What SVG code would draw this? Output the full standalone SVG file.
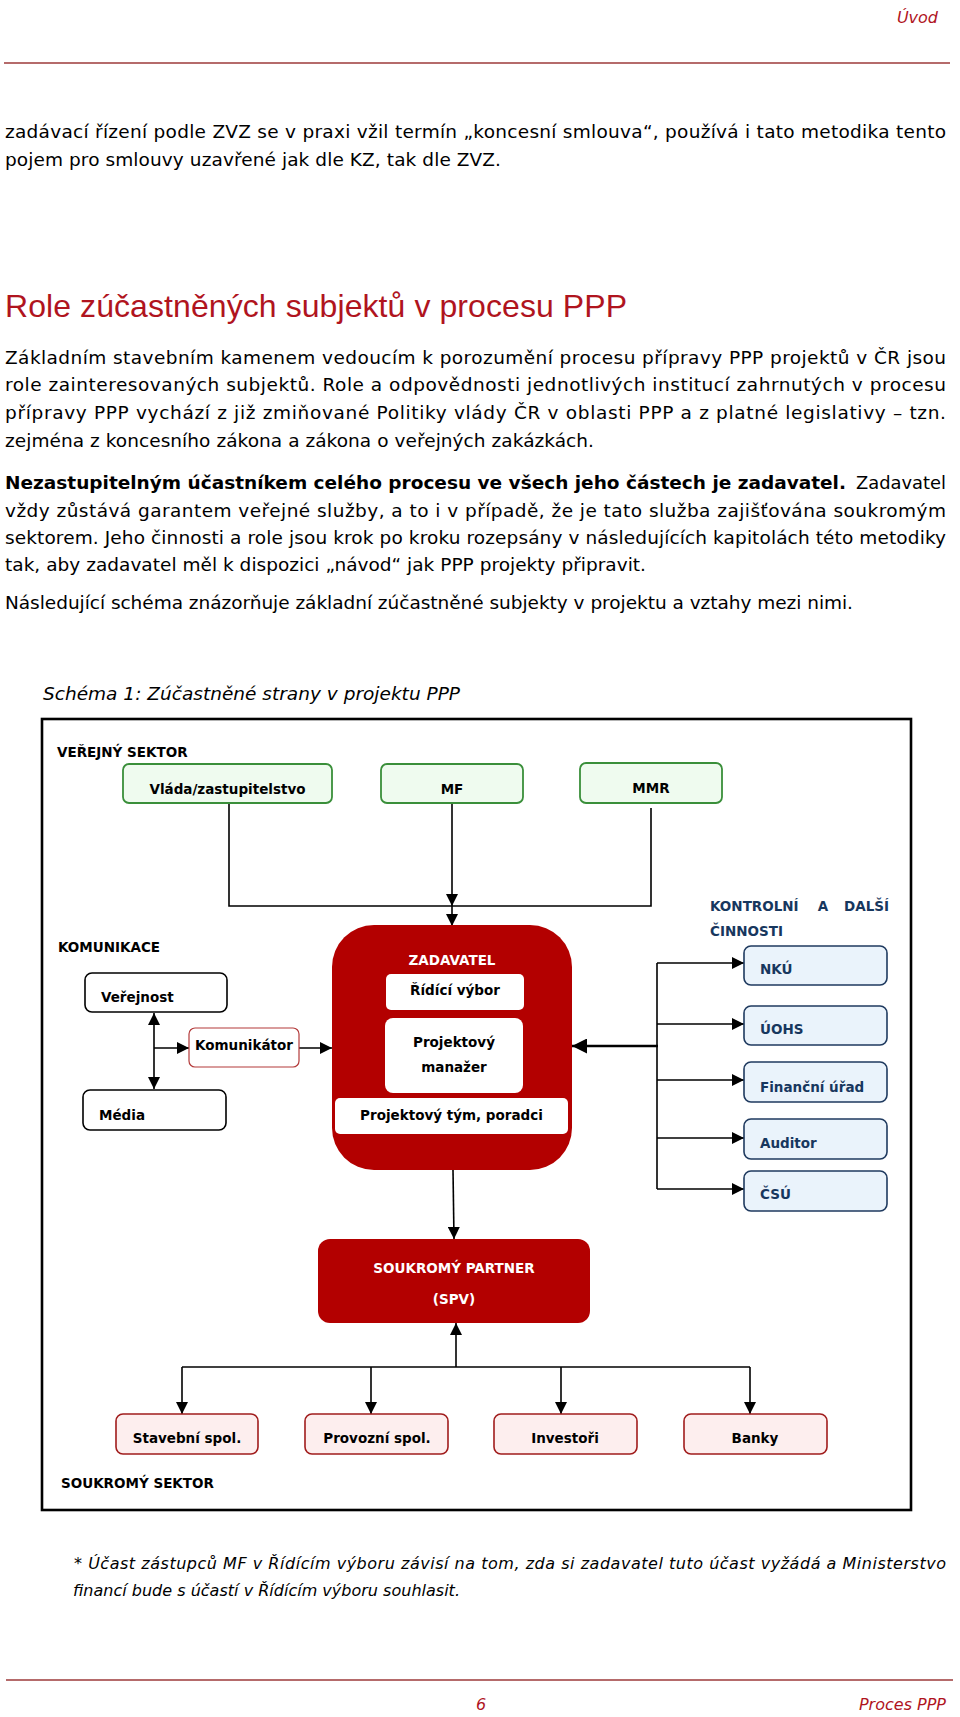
<svg xmlns="http://www.w3.org/2000/svg" width="960" height="1717" viewBox="0 0 960 1717">
<style>
.body{font-family:"DejaVu Sans",Verdana,sans-serif;font-size:18.5px;fill:#000}
.it{font-family:"DejaVu Sans",Verdana,sans-serif;font-style:italic}
.red{fill:#b0141e}
.lbl{font-family:"DejaVu Sans",Verdana,sans-serif;font-size:13.5px;font-weight:bold;fill:#000}
.wht{fill:#fff}
.blu{fill:#17375e}
.mid{text-anchor:middle}
.g{fill:#effbef;stroke:#3a8f3a;stroke-width:1.8}
.k{fill:#fff;stroke:#000;stroke-width:1.6}
.b{fill:#eaf3fb;stroke:#1f3a5f;stroke-width:1.6}
.p{fill:#fdeeee;stroke:#a01c1c;stroke-width:1.6}
.rd{fill:#b30000}
.w{fill:#fff}
.c{stroke:#000;stroke-width:1.6;fill:none}
</style>
<defs>
<marker id="a" viewBox="0 0 12 12" refX="12" refY="6" markerWidth="12" markerHeight="12" markerUnits="userSpaceOnUse" orient="auto-start-reverse"><path d="M0,0 L12,6 L0,12 z" fill="#000"/></marker>
<marker id="A" viewBox="0 0 12 12" refX="12" refY="6" markerWidth="15" markerHeight="15" markerUnits="userSpaceOnUse" orient="auto"><path d="M0,0 L12,6 L0,12 z" fill="#000"/></marker>
</defs>
<rect width="960" height="1717" fill="#fff"/>
<!-- header -->
<text class="it red" x="938" y="23" font-size="16" text-anchor="end">Úvod</text>
<line x1="4" y1="63" x2="950" y2="63" stroke="#9c3a3a" stroke-width="1.5"/>
<!-- text -->
<text class="body" x="5" y="138" textLength="941" lengthAdjust="spacing">zadávací řízení podle ZVZ se v praxi vžil termín „koncesní smlouva“, používá i tato metodika tento</text>
<text class="body" x="5" y="165.5" textLength="496" lengthAdjust="spacing">pojem pro smlouvy uzavřené jak dle KZ, tak dle ZVZ.</text>
<text x="5" y="317" font-family="'Liberation Sans',Arial,sans-serif" font-size="32" fill="#b0141e" textLength="622" lengthAdjust="spacing">Role zúčastněných subjektů v procesu PPP</text>
<text class="body" x="5" y="364" textLength="941" lengthAdjust="spacing">Základním stavebním kamenem vedoucím k porozumění procesu přípravy PPP projektů v ČR jsou</text>
<text class="body" x="5" y="391" textLength="941" lengthAdjust="spacing">role zainteresovaných subjektů. Role a odpovědnosti jednotlivých institucí zahrnutých v procesu</text>
<text class="body" x="5" y="419" textLength="941" lengthAdjust="spacing">přípravy PPP vychází z již zmiňované Politiky vlády ČR v oblasti PPP a z platné legislativy – tzn.</text>
<text class="body" x="5" y="446.5" textLength="589" lengthAdjust="spacing">zejména z koncesního zákona a zákona o veřejných zakázkách.</text>
<text class="body" x="5" y="489" font-weight="bold" textLength="841" lengthAdjust="spacingAndGlyphs">Nezastupitelným účastníkem celého procesu ve všech jeho částech je zadavatel.</text>
<text class="body" x="856" y="489" textLength="90" lengthAdjust="spacingAndGlyphs">Zadavatel</text>
<text class="body" x="5" y="516.5" textLength="941" lengthAdjust="spacing">vždy zůstává garantem veřejné služby, a to i v případě, že je tato služba zajišťována soukromým</text>
<text class="body" x="5" y="543.5" textLength="941" lengthAdjust="spacing">sektorem. Jeho činnosti a role jsou krok po kroku rozepsány v následujících kapitolách této metodiky</text>
<text class="body" x="5" y="571" textLength="641" lengthAdjust="spacing">tak, aby zadavatel měl k dispozici „návod“ jak PPP projekty připravit.</text>
<text class="body" x="5" y="609" textLength="848" lengthAdjust="spacing">Následující schéma znázorňuje základní zúčastněné subjekty v projektu a vztahy mezi nimi.</text>
<text class="it" x="43" y="700" font-size="18.5" textLength="417" lengthAdjust="spacing">Schéma 1: Zúčastněné strany v projektu PPP</text>
<!-- frame -->
<rect x="42" y="719" width="869" height="791" fill="none" stroke="#000" stroke-width="2.6"/>
<text class="lbl" x="57" y="757">VEŘEJNÝ SEKTOR</text>
<text class="lbl" x="58" y="952">KOMUNIKACE</text>
<text class="lbl" x="61" y="1488">SOUKROMÝ SEKTOR</text>
<g id="kontrolni">
<text class="lbl blu" x="710" y="911">KONTROLNÍ</text>
<text class="lbl blu" x="823" y="911" text-anchor="middle">A</text>
<text class="lbl blu" x="889" y="911" text-anchor="end">DALŠÍ</text>
<text class="lbl blu" x="710" y="936">ČINNOSTI</text>
</g>
<!-- connectors -->
<g id="connectors">
<path class="c" d="M229,803 V906 H651 V808"/>
<line class="c" x1="452" y1="803" x2="452" y2="906" marker-end="url(#a)"/>
<line class="c" x1="452" y1="906" x2="452" y2="926" marker-end="url(#a)"/>
<line class="c" x1="154" y1="1013" x2="154" y2="1089" marker-start="url(#a)" marker-end="url(#a)"/>
<line class="c" x1="154" y1="1048" x2="189" y2="1048" marker-end="url(#a)"/>
<line class="c" x1="299" y1="1048" x2="332" y2="1048" marker-end="url(#a)"/>
<path class="c" d="M657,963 V1189"/>
<line class="c" x1="657" y1="963" x2="744" y2="963" marker-end="url(#a)"/>
<line class="c" x1="657" y1="1024" x2="744" y2="1024" marker-end="url(#a)"/>
<line class="c" x1="657" y1="1080" x2="744" y2="1080" marker-end="url(#a)"/>
<line class="c" x1="657" y1="1138" x2="744" y2="1138" marker-end="url(#a)"/>
<line class="c" x1="657" y1="1189" x2="744" y2="1189" marker-end="url(#a)"/>
<line x1="658" y1="1046" x2="572" y2="1046" stroke="#000" stroke-width="2.6" marker-end="url(#A)"/>
<line class="c" x1="453" y1="1170" x2="454" y2="1239" marker-end="url(#a)"/>
<line class="c" x1="456" y1="1367" x2="456" y2="1323" marker-end="url(#a)"/>
<path class="c" d="M182,1367 H750"/>
<line class="c" x1="182" y1="1367" x2="182" y2="1414" marker-end="url(#a)"/>
<line class="c" x1="371" y1="1367" x2="371" y2="1414" marker-end="url(#a)"/>
<line class="c" x1="561" y1="1367" x2="561" y2="1414" marker-end="url(#a)"/>
<line class="c" x1="750" y1="1367" x2="750" y2="1414" marker-end="url(#a)"/>
</g>
<!-- nodes -->
<g id="vlada"><rect class="g" x="123" y="764" width="209" height="39" rx="6"/><text class="lbl mid" x="227.5" y="794">Vláda/zastupitelstvo</text></g>
<g id="mf"><rect class="g" x="381" y="764" width="142" height="39" rx="6"/><text class="lbl mid" x="452" y="794">MF</text></g>
<g id="mmr"><rect class="g" x="580" y="763" width="142" height="40" rx="6"/><text class="lbl mid" x="651" y="793">MMR</text></g>
<g id="verejnost"><rect class="k" x="85" y="973" width="142" height="39" rx="7"/><text class="lbl" x="101" y="1002">Veřejnost</text></g>
<g id="media"><rect class="k" x="83" y="1090" width="143" height="40" rx="7"/><text class="lbl" x="99" y="1120">Média</text></g>
<g id="komunikator"><rect x="189" y="1028" width="110" height="39" rx="6" fill="#fff" stroke="#b33a3a" stroke-width="1.2"/><text class="lbl mid" x="244" y="1050">Komunikátor</text></g>
<g id="zadavatel">
<rect class="rd" x="332" y="925" width="240" height="245" rx="42"/>
<text class="lbl wht mid" x="452" y="965">ZADAVATEL</text>
<rect class="w" x="386" y="974" width="138" height="36" rx="5"/>
<text class="lbl mid" x="455" y="995">Řídící výbor</text>
<rect class="w" x="385" y="1018" width="138" height="75" rx="8"/>
<text class="lbl mid" x="454" y="1047">Projektový</text>
<text class="lbl mid" x="454" y="1072">manažer</text>
<rect class="w" x="335" y="1098" width="233" height="36" rx="5"/>
<text class="lbl mid" x="451.5" y="1120">Projektový tým, poradci</text>
</g>
<g id="nku"><rect class="b" x="744" y="946" width="143" height="39" rx="7"/><text class="lbl blu" x="760" y="974">NKÚ</text></g>
<g id="uohs"><rect class="b" x="744" y="1006" width="143" height="39" rx="7"/><text class="lbl blu" x="760" y="1034">ÚOHS</text></g>
<g id="financni"><rect class="b" x="744" y="1062" width="143" height="40" rx="7"/><text class="lbl blu" x="760" y="1092">Finanční úřad</text></g>
<g id="auditor"><rect class="b" x="744" y="1119" width="143" height="40" rx="7"/><text class="lbl blu" x="760" y="1148">Auditor</text></g>
<g id="csu"><rect class="b" x="744" y="1171" width="143" height="40" rx="7"/><text class="lbl blu" x="760" y="1199">ČSÚ</text></g>
<g id="partner"><rect class="rd" x="318" y="1239" width="272" height="84" rx="12"/><text class="lbl wht mid" x="454" y="1273">SOUKROMÝ PARTNER</text><text class="lbl wht mid" x="454" y="1304">(SPV)</text></g>
<g id="stavebni"><rect class="p" x="116" y="1414" width="142" height="40" rx="7"/><text class="lbl mid" x="187" y="1443">Stavební spol.</text></g>
<g id="provozni"><rect class="p" x="305" y="1414" width="143" height="40" rx="7"/><text class="lbl mid" x="377" y="1443">Provozní spol.</text></g>
<g id="investori"><rect class="p" x="494" y="1414" width="143" height="40" rx="7"/><text class="lbl mid" x="565" y="1443">Investoři</text></g>
<g id="banky"><rect class="p" x="684" y="1414" width="143" height="40" rx="7"/><text class="lbl mid" x="755" y="1443">Banky</text></g>
<!-- footnote -->
<text class="it" x="74" y="1569" font-size="16" textLength="872" lengthAdjust="spacing">* Účast zástupců MF v Řídícím výboru závisí na tom, zda si zadavatel tuto účast vyžádá a Ministerstvo</text>
<text class="it" x="73" y="1596" font-size="16" textLength="387" lengthAdjust="spacing">financí bude s účastí v Řídícím výboru souhlasit.</text>
<!-- footer -->
<line x1="6" y1="1680" x2="953" y2="1680" stroke="#9c3a3a" stroke-width="1.5"/>
<text class="it red" x="481" y="1710" font-size="16" text-anchor="middle">6</text>
<text class="it red" x="946" y="1710" font-size="16" text-anchor="end">Proces PPP</text>
</svg>
